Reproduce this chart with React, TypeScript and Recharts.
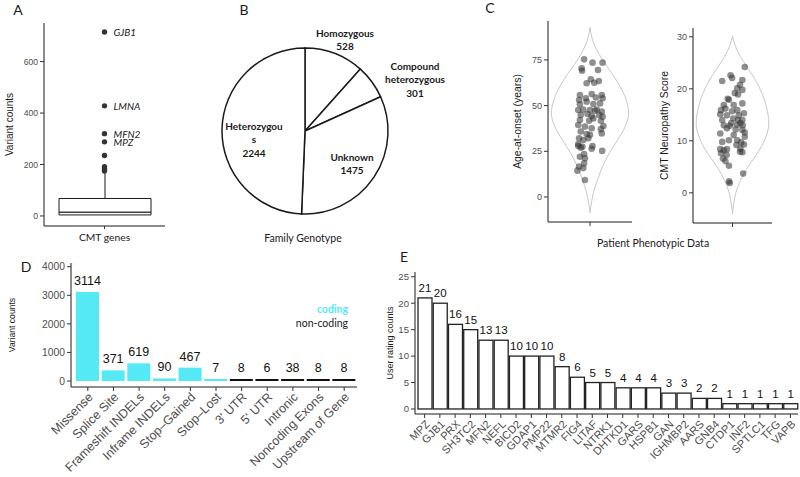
import React from 'react';
import {
  ComposedChart, BarChart, PieChart, Pie, Bar, Line, Scatter, XAxis, YAxis, Cell, LabelList,
} from 'recharts';

const SANS = '"Liberation Sans", Arial, sans-serif';
const LATO = 'Lato, "Open Sans", sans-serif';
const INK = '#1a1a1a';
const TICK = '#4d4d4d';
const CYAN = '#55E9F6';

// ---- A: variant counts per CMT gene (box plot) ----
const boxGenes = ['CMT genes'];
const boxQ1 = 4;
const boxMedian = 15;
const boxQ3 = 68;
const boxUpper = 166;
const outlierCounts = [715, 428, 320, 288, 235, 191, 183, 175];
const outlierNames = ['GJB1', 'LMNA', 'MFN2', 'MPZ', '', '', '', ''];
const countTicks = [0, 200, 400, 600];

// ---- B: family genotype ----
const genotypeNames = ['Homozygous', 'Compound heterozygous', 'Unknown', 'Heterozygous'];
const genotypeCounts = [528, 301, 1475, 2244];
const genotypeLabelLines = [
  ['Homozygous', '528'],
  ['Compound', 'heterozygous', '301'],
  ['Unknown', '1475'],
  ['Heterozygou', 's', '2244'],
];
// where the first line of each label sits, relative to the pie centre
const genotypeLabelOffsets = [[40, -98], [110, -65], [47, 26], [-51, -5]];

// ---- C: patient phenotypes (violins + jittered points) ----
const ageOutline = [
  { y: -8.7, w: 0 }, { y: -5.1, w: 0.02 }, { y: 2.2, w: 0.08 }, { y: 9.5, w: 0.18 },
  { y: 16.7, w: 0.3 }, { y: 24, w: 0.46 }, { y: 31.3, w: 0.66 }, { y: 38.6, w: 0.84 },
  { y: 45.9, w: 0.92 }, { y: 53.2, w: 0.86 }, { y: 60.4, w: 0.72 }, { y: 67.7, w: 0.52 },
  { y: 75, w: 0.3 }, { y: 80.5, w: 0.16 }, { y: 86, w: 0.06 }, { y: 92.8, w: 0 },
];
const agePoints = [
  { x: -0.14, y: 75.3 }, { x: 0.06, y: 73.5 }, { x: 0.3, y: 73.5 }, { x: -0.2, y: 70.4 },
  { x: -0.19, y: 69.1 }, { x: 0.19, y: 69.5 }, { x: 0.02, y: 64.4 }, { x: -0.08, y: 62.2 },
  { x: 0.1, y: 62.5 }, { x: 0.21, y: 63.4 }, { x: -0.24, y: 55.8 }, { x: -0.26, y: 53.1 },
  { x: -0.1, y: 54.0 }, { x: 0.04, y: 56.3 }, { x: 0.14, y: 54.4 }, { x: 0.28, y: 55.8 },
  { x: 0.3, y: 54.0 }, { x: -0.24, y: 50.7 }, { x: -0.08, y: 52.1 }, { x: 0.08, y: 50.9 },
  { x: 0.24, y: 51.2 }, { x: -0.16, y: 47.9 }, { x: 0, y: 47.6 }, { x: 0.12, y: 47.2 },
  { x: 0.16, y: 47.9 }, { x: 0.28, y: 46.7 }, { x: -0.28, y: 47.6 }, { x: -0.22, y: 44.9 },
  { x: -0.06, y: 45.4 }, { x: 0.04, y: 44.3 }, { x: 0.22, y: 44.9 }, { x: 0.3, y: 43.9 },
  { x: -0.24, y: 42.1 }, { x: -0.02, y: 41.7 }, { x: 0.08, y: 43.0 }, { x: 0.26, y: 41.7 },
  { x: -0.28, y: 39.4 }, { x: -0.12, y: 38.5 }, { x: 0.04, y: 37.6 }, { x: 0.26, y: 37.1 },
  { x: 0.32, y: 38.8 }, { x: -0.22, y: 35.8 }, { x: -0.08, y: 34.5 }, { x: 0, y: 34.0 },
  { x: 0.28, y: 34.8 }, { x: -0.26, y: 32.1 }, { x: -0.16, y: 31.2 }, { x: -0.04, y: 32.1 },
  { x: -0.28, y: 27.9 }, { x: -0.22, y: 27.0 }, { x: -0.18, y: 27.5 }, { x: 0.06, y: 27.9 },
  { x: 0.04, y: 26.4 }, { x: -0.28, y: 29.0 }, { x: 0.29, y: 25.2 }, { x: -0.12, y: 21.2 },
  { x: -0.14, y: 18.4 }, { x: -0.26, y: 16.7 }, { x: -0.16, y: 15.8 }, { x: -0.3, y: 14.4 },
  { x: -0.12, y: 9.3 }, { x: -0.14, y: 23.5 }, { x: -0.24, y: 22.0 },
];
const ageTicks = [0, 25, 50, 75];

const scoreOutline = [
  { y: -4.0, w: 0 }, { y: -2.7, w: 0.02 }, { y: -0.1, w: 0.08 }, { y: 2.4, w: 0.2 },
  { y: 5.0, w: 0.39 }, { y: 7.6, w: 0.63 }, { y: 10.1, w: 0.81 }, { y: 13.3, w: 0.92 },
  { y: 16.5, w: 0.86 }, { y: 19.1, w: 0.75 }, { y: 21.7, w: 0.58 }, { y: 24.2, w: 0.37 },
  { y: 26.2, w: 0.2 }, { y: 28.1, w: 0.08 }, { y: 30.1, w: 0 },
];
const scorePoints = [
  { x: 0.31, y: 24.2 }, { x: -0.05, y: 22.6 }, { x: -0.01, y: 22.1 }, { x: -0.26, y: 21.5 },
  { x: 0.25, y: 21.7 }, { x: 0.19, y: 20.8 }, { x: 0.12, y: 20.1 }, { x: 0.06, y: 19.2 },
  { x: 0.14, y: 18.9 }, { x: 0.25, y: 19.8 }, { x: -0.12, y: 18.1 }, { x: -0.09, y: 17.9 },
  { x: -0.22, y: 16.9 }, { x: -0.18, y: 16.2 }, { x: 0.03, y: 16.9 }, { x: 0.25, y: 17.2 },
  { x: 0.12, y: 15.9 }, { x: -0.29, y: 15.9 }, { x: -0.01, y: 15.7 }, { x: -0.31, y: 15.1 },
  { x: -0.14, y: 14.9 }, { x: 0.16, y: 14.9 }, { x: 0.29, y: 15.3 }, { x: -0.26, y: 14.0 },
  { x: 0.02, y: 14.3 }, { x: 0.14, y: 14.0 }, { x: 0.25, y: 14.0 }, { x: -0.22, y: 13.0 },
  { x: -0.07, y: 12.9 }, { x: -0.03, y: 13.4 }, { x: 0.12, y: 13.1 }, { x: 0.2, y: 13.4 },
  { x: 0.26, y: 13.0 }, { x: -0.14, y: 12.4 }, { x: 0.08, y: 12.2 }, { x: 0.25, y: 12.1 },
  { x: 0.31, y: 11.6 }, { x: -0.31, y: 11.4 }, { x: 0.31, y: 10.8 }, { x: 0.12, y: 10.1 },
  { x: -0.26, y: 9.8 }, { x: -0.09, y: 10.1 }, { x: 0.22, y: 9.7 }, { x: 0.29, y: 9.3 },
  { x: 0.1, y: 9.2 }, { x: -0.31, y: 8.4 }, { x: -0.22, y: 8.2 }, { x: -0.14, y: 8.4 },
  { x: 0.2, y: 8.5 }, { x: -0.29, y: 7.6 }, { x: -0.15, y: 7.3 }, { x: 0.25, y: 7.8 },
  { x: -0.24, y: 6.6 }, { x: -0.18, y: 6.1 }, { x: -0.09, y: 5.2 }, { x: 0.27, y: 3.7 },
  { x: -0.09, y: 2.2 }, { x: -0.07, y: 1.9 }, { x: 0.19, y: 7.9 }, { x: 0.03, y: 11.1 },
];
const scoreTicks = [0, 10, 20, 30];

// ---- D: variant consequence types ----
const variantTypes = [
  'Missense', 'Splice Site', 'Frameshift INDELs', 'Inframe INDELs', 'Stop\u2013Gained', 'Stop\u2013Lost',
  "3' UTR", "5' UTR", 'Intronic', 'Noncoding Exons', 'Upstream of Gene',
];
const variantCounts = [3114, 371, 619, 90, 467, 7, 8, 6, 38, 8, 8];
const variantCoding = [true, true, true, true, true, true, false, false, false, false, false];
const variantTicks = [0, 1000, 2000, 3000, 4000];

// ---- E: user ratings per gene ----
const ratedGenes = [
  'MPZ', 'GJB1', 'PRX', 'SH3TC2', 'MFN2', 'NEFL', 'BICD2', 'GDAP1', 'PMP22', 'MTMR2', 'FIG4',
  'LITAF', 'NTRK1', 'DHTKD1', 'GARS', 'HSPB1', 'GAN', 'IGHMBP2', 'AARS', 'GNB4', 'CTDP1',
  'INF2', 'SPTLC1', 'TFG', 'VAPB',
];
const ratingCounts = [21, 20, 16, 15, 13, 13, 10, 10, 10, 8, 6, 5, 5, 4, 4, 4, 3, 3, 2, 2, 1, 1, 1, 1, 1];
const ratingTicks = [0, 5, 10, 15, 20, 25];

const boxData = boxGenes.map((name) => ({
  name,
  base: boxQ1,
  lower: boxMedian - boxQ1,
  upper: boxQ3 - boxMedian,
  whisker: boxUpper - boxQ3,
}));
const outlierData = outlierCounts.map((v, i) => ({ name: boxGenes[0], v, gene: outlierNames[i] }));
const genotypeData = genotypeNames.map((name, i) => ({ name, value: genotypeCounts[i] }));
const variantData = variantTypes.map((type, i) => ({ type, count: variantCounts[i], coding: variantCoding[i] }));
const ratingData = ratedGenes.map((gene, i) => ({ gene, count: ratingCounts[i] }));

const axisLine = { stroke: INK, strokeWidth: 1 };
const tickLine = { stroke: '#333', strokeWidth: 1 };
const tickText = (size: number) => ({ fontSize: size, fill: TICK, fontFamily: SANS });

// rotated y-axis title drawn through the axis label hook
const yTitle = (text: string, offset: number, size: number) => (props: any) => {
  const vb = props.viewBox || {};
  const x = (vb.x || 0) + offset;
  const y = (vb.y || 0) + (vb.height || 0) / 2;
  return (
    <text x={x} y={y} transform={`rotate(-90, ${x}, ${y})`} textAnchor="middle" dominantBaseline="central"
      fontSize={size} fontFamily={SANS} fill={INK}>
      {text}
    </text>
  );
};

const angledTick = (size: number) => (props: any) => {
  const { x, y, payload } = props;
  const ax = x + 3;
  const ay = y + 2;
  return (
    <text x={ax} y={ay} transform={`rotate(-45, ${ax}, ${ay})`} textAnchor="end" dominantBaseline="central"
      fontSize={size} fontFamily={SANS} fill={TICK}>
      {payload.value}
    </text>
  );
};

// bar rect plus its count written just above it
const VariantBar = (p: any) => {
  const top = Math.min(p.y, p.y + p.height);
  return (
    <g>
      <rect x={p.x} y={top} width={p.width} height={Math.abs(p.height)} fill={p.payload.coding ? CYAN : '#111'} />
      <text x={p.x + p.width / 2} y={top - 7} textAnchor="middle" fontSize={12.5} fontFamily={SANS} fill="#111">
        {p.payload.count}
      </text>
    </g>
  );
};

const RatingBar = (p: any) => {
  const top = Math.min(p.y, p.y + p.height);
  return (
    <g>
      <rect x={p.x} y={top} width={p.width} height={Math.abs(p.height)} fill="#fff" stroke="#222" strokeWidth={1.3} />
      <text x={p.x + p.width / 2} y={top - 6} textAnchor="middle" fontSize={11.5} fontFamily={SANS} fill="#111">
        {p.payload.count}
      </text>
    </g>
  );
};

const Caption = ({ x, y, size = 10.5, weight = 400, color = INK, anchor = 'middle', children }: any) => (
  <div
    style={{
      position: 'absolute', left: x, top: y, whiteSpace: 'nowrap', lineHeight: 1,
      transform: anchor === 'end' ? 'translate(-100%, -50%)' : 'translate(-50%, -50%)',
      fontFamily: LATO, fontSize: size, fontWeight: weight, color,
    }}
  >
    {children}
  </div>
);

const Whisker = (props: any) => {
  const { x, y, width, height } = props;
  const cx = x + width / 2;
  return <line x1={cx} x2={cx} y1={y} y2={y + height} stroke={INK} strokeWidth={1} />;
};

const BoxPanel = () => (
  <ComposedChart width={200} height={250} data={boxData} margin={{ top: 23, right: 35, bottom: 0, left: 0 }}>
    <XAxis dataKey="name" allowDuplicatedCategory={false} height={24} axisLine={axisLine} tickSize={3}
      tickLine={tickLine} tickMargin={5} tick={{ fontSize: 10.3, fill: INK, fontFamily: LATO }} />
    <YAxis type="number" domain={[-39, 750]} ticks={countTicks} interval={0} width={44} allowDataOverflow
      axisLine={axisLine} tickSize={4} tickLine={tickLine} tick={tickText(8.6)}
      label={yTitle('Variant counts', 9, 10)} />
    <Bar dataKey="base" stackId="box" fill="none" barSize={92} isAnimationActive={false} />
    <Bar dataKey="lower" stackId="box" fill="#fff" stroke={INK} strokeWidth={1} barSize={92} isAnimationActive={false} />
    <Bar dataKey="upper" stackId="box" fill="#fff" stroke={INK} strokeWidth={1} barSize={92} isAnimationActive={false} />
    <Bar dataKey="whisker" stackId="box" shape={Whisker} barSize={92} isAnimationActive={false} />
    <Scatter data={outlierData} dataKey="v" isAnimationActive={false}
      shape={(p: any) => <circle cx={p.cx} cy={p.cy} r={2.7} fill="#333" />}>
      <LabelList dataKey="gene" content={(p: any) => {
        if (!p.value) return null;
        const vb = p.viewBox || p;
        const cx = vb.x + (vb.width || 0) / 2;
        const cy = vb.y + (vb.height || 0) / 2;
        return (
          <text x={cx + 9} y={cy} dominantBaseline="central" fontSize={10} fontStyle="italic"
            fontFamily={LATO} fill={INK}>{p.value}</text>
        );
      }} />
    </Scatter>
  </ComposedChart>
);

const renderGenotypeLabel = (p: any) => {
  const lines = genotypeLabelLines[p.index];
  const [dx, dy] = genotypeLabelOffsets[p.index];
  const x = p.cx + dx;
  return (
    <text key={p.index} x={x} y={p.cy + dy} textAnchor="middle" fontFamily={LATO} fontWeight={700}
      fontSize={10} fill={INK}>
      {lines.map((l, k) => (
        <tspan key={k} x={x} dy={k === 0 ? '0.35em' : 13.6}>{l}</tspan>
      ))}
    </text>
  );
};

const GenotypePanel = () => (
  <PieChart width={260} height={250} margin={{ top: 0, right: 0, bottom: 0, left: 0 }}>
    <Pie data={genotypeData} dataKey="value" nameKey="name" cx={105} cy={131} outerRadius={83}
      startAngle={90} endAngle={-270} stroke={INK} strokeWidth={1.5} fill="#fff"
      label={renderGenotypeLabel} labelLine={false} isAnimationActive={false}>
      {genotypeData.map((d) => <Cell key={d.name} fill="#fff" />)}
    </Pie>
  </PieChart>
);

const ViolinPanel = ({ outline, points, domain, ticks, title, titleOffset, width, height, top }: any) => {
  const right = outline.map((d: any) => ({ x: d.w, y: d.y }));
  const left = outline.map((d: any) => ({ x: -d.w, y: d.y }));
  return (
    <ComposedChart width={width} height={height} margin={{ top, right: 13, bottom: 0, left: 0 }}>
      <XAxis type="number" dataKey="x" domain={[-1, 1]} ticks={[0]} allowDataOverflow height={13}
        axisLine={axisLine} tickSize={4} tickLine={tickLine} tickFormatter={() => ''} />
      <YAxis type="number" dataKey="y" domain={domain} ticks={ticks} interval={0} width={48} allowDataOverflow
        axisLine={axisLine} tickSize={4} tickLine={tickLine} tick={tickText(9)}
        label={yTitle(title, titleOffset, 10.4)} />
      <Line data={right} dataKey="y" type="monotoneY" stroke="#c8c8c8" strokeWidth={1} dot={false}
        isAnimationActive={false} />
      <Line data={left} dataKey="y" type="monotoneY" stroke="#c8c8c8" strokeWidth={1} dot={false}
        isAnimationActive={false} />
      <Scatter data={points} dataKey="y" isAnimationActive={false}
        shape={(p: any) => <circle cx={p.cx} cy={p.cy} r={3.3} fill="#333" fillOpacity={0.55} />} />
    </ComposedChart>
  );
};

const VariantPanel = () => (
  <BarChart width={370} height={227} data={variantData} margin={{ top: 13, right: 13, bottom: 0, left: 0 }}>
    <XAxis dataKey="type" interval={0} height={90} padding={{ left: 4, right: 0 }} axisLine={axisLine}
      tickSize={4} tickLine={tickLine} tick={angledTick(12.5)} />
    <YAxis type="number" domain={[-210, 4130]} ticks={variantTicks} interval={0} width={71} allowDataOverflow
      axisLine={axisLine} tickSize={4} tickLine={tickLine} tick={tickText(10.3)}
      label={yTitle('Variant counts', 12, 8.6)} />
    <Bar dataKey="count" barSize={23} minPointSize={2} shape={VariantBar} isAnimationActive={false} />
  </BarChart>
);

const RatingPanel = () => (
  <BarChart width={430} height={227} data={ratingData} margin={{ top: 22, right: 2, bottom: 0, left: 0 }}>
    <XAxis dataKey="gene" interval={0} height={63} padding={{ left: 2, right: 0 }} axisLine={axisLine}
      tickSize={4} tickLine={tickLine} tick={angledTick(11)} />
    <YAxis type="number" domain={[-0.95, 25.9]} ticks={ratingTicks} interval={0} width={45} allowDataOverflow
      axisLine={axisLine} tickSize={4} tickLine={tickLine} tick={tickText(9.6)}
      label={yTitle('User rating counts', 20, 9)} />
    <Bar dataKey="count" barSize={14} shape={RatingBar} isAnimationActive={false} />
  </BarChart>
);

export default function App() {
  return (
    <div style={{ position: 'absolute', left: 0, top: 0, width: 800, height: 477, background: '#fff', overflow: 'hidden' }}>
      <div style={{ position: 'absolute', left: 0, top: 0 }}><BoxPanel /></div>
      <div style={{ position: 'absolute', left: 200, top: 0 }}><GenotypePanel /></div>
      <div style={{ position: 'absolute', left: 500, top: 0 }}>
        <ViolinPanel outline={ageOutline} points={agePoints} domain={[-13.7, 96.3]} ticks={ageTicks}
          title="Age-at-onset (years)" titleOffset={17} width={145} height={235} top={21} />
      </div>
      <div style={{ position: 'absolute', left: 645, top: 0 }}>
        <ViolinPanel outline={scoreOutline} points={scorePoints} domain={[-5.8, 31.7]} ticks={scoreTicks}
          title="CMT Neuropathy Score" titleOffset={19} width={140} height={236} top={28} />
      </div>
      <div style={{ position: 'absolute', left: 0, top: 250 }}><VariantPanel /></div>
      <div style={{ position: 'absolute', left: 370, top: 250 }}><RatingPanel /></div>

      <Caption x={18} y={10} size={14}>A</Caption>
      <Caption x={244} y={10} size={14}>B</Caption>
      <Caption x={490} y={8} size={14}>C</Caption>
      <Caption x={26} y={267} size={14}>D</Caption>
      <Caption x={404} y={257} size={14}>E</Caption>
      <Caption x={303} y={238}>Family Genotype</Caption>
      <Caption x={653} y={243}>Patient Phenotypic Data</Caption>
      <Caption x={348} y={309} weight={700} color={CYAN} anchor="end">coding</Caption>
      <Caption x={348} y={323} anchor="end">non-coding</Caption>
    </div>
  );
}
